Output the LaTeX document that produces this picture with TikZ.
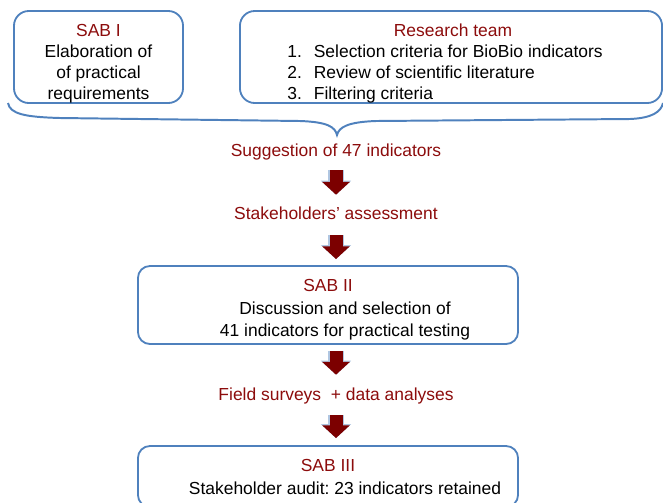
\documentclass[tikz,border=0pt]{standalone}
\usepackage{fontspec}
\setmainfont{Liberation Sans}
\usetikzlibrary{arrows.meta}
\definecolor{sabblue}{RGB}{79,129,189}
\definecolor{sabred}{RGB}{140,12,12}
\definecolor{arrowred}{RGB}{124,0,0}
\frenchspacing
\begin{document}
\begin{tikzpicture}[x=0.025cm,y=-0.025cm,
    every node/.style={font=\fontsize{12.4pt}{15pt}\selectfont},
    box/.style={draw=sabblue,line width=1.3pt,rounded corners=0.37cm,inner sep=0pt},
    boxtext/.style={align=center,inner sep=0pt},
    stagelabel/.style={text=sabred,inner sep=0pt,text height=0.31cm,text depth=0.09cm},
    downarrow/.style={draw=arrowred,line width=0.325cm,-{Triangle[width=0.675cm,length=0.32cm]},
      preaction={draw=sabblue!45,line width=0.38cm,-{Triangle[width=0.74cm,length=0.35cm]}}}]
  \useasboundingbox (0,0) rectangle (663,502);
  \node[box,minimum width=4.225cm,minimum height=2.3cm] (sab1) at (98.5,57) {};
  \node[boxtext] (sab1text) at (98.5,64)
    {\textcolor{sabred}{SAB I}\\Elaboration of\\of practical\\requirements};
  \node[box,minimum width=10.55cm,minimum height=2.3cm] (team) at (451,57) {};
  \node[boxtext] (teamtext) at (445,64.5)
    {\hspace*{0.4cm}\textcolor{sabred}{Research team}\\
     \begin{tabular}[t]{@{}l@{\hspace{0.3cm}}l@{}}
       1.&Selection criteria for BioBio indicators\\
       2.&Review of scientific literature\\
       3.&Filtering criteria
     \end{tabular}};
  \draw[sabblue,line width=1.4pt] (8,103) .. controls (10,114) and (25,117) .. (60,118)
    -- (300,121) .. controls (328,122) and (335,127) .. (337,135)
    .. controls (339,127) and (348,122) .. (376,121)
    -- (630,119) .. controls (652,118) and (661,112) .. (663,103);
  \node[stagelabel] (suggest) at (336,152) {Suggestion of 47 indicators};
  \node[stagelabel] (assess) at (336,215) {Stakeholders’ assessment};
  \node[box,rounded corners=0.3cm,minimum width=9.5cm,minimum height=1.95cm] (sab2) at (328,305) {};
  \node[boxtext,font=\fontsize{12.4pt}{16pt}\selectfont] (sab2text) at (328,310)
    {\textcolor{sabred}{SAB II}\\\hspace*{0.85cm}Discussion and selection of\\\hspace*{0.85cm}41 indicators for practical testing};
  \node[stagelabel] (field) at (336,396) {Field surveys\ \ + data analyses};
  \node[box,rounded corners=0.3cm,minimum width=9.5cm,minimum height=1.525cm] (sab3) at (328,476.5) {};
  \node[boxtext,font=\fontsize{12.4pt}{16pt}\selectfont] (sab3text) at (328,477)
    {\textcolor{sabred}{SAB III}\\\hspace*{0.85cm}Stakeholder audit: 23 indicators retained};
  \draw[downarrow,shorten <=0.25cm,shorten >=0.3cm] (suggest) -- (assess);
  \draw[downarrow,shorten <=0.3cm,shorten >=0.15cm] (assess) -- (assess |- sab2.north);
  \draw[downarrow,shorten <=0.15cm,shorten >=0.325cm] (field |- sab2.south) -- (field);
  \draw[downarrow,shorten <=0.275cm,shorten >=0.175cm] (field) -- (field |- sab3.north);
\end{tikzpicture}
\end{document}
